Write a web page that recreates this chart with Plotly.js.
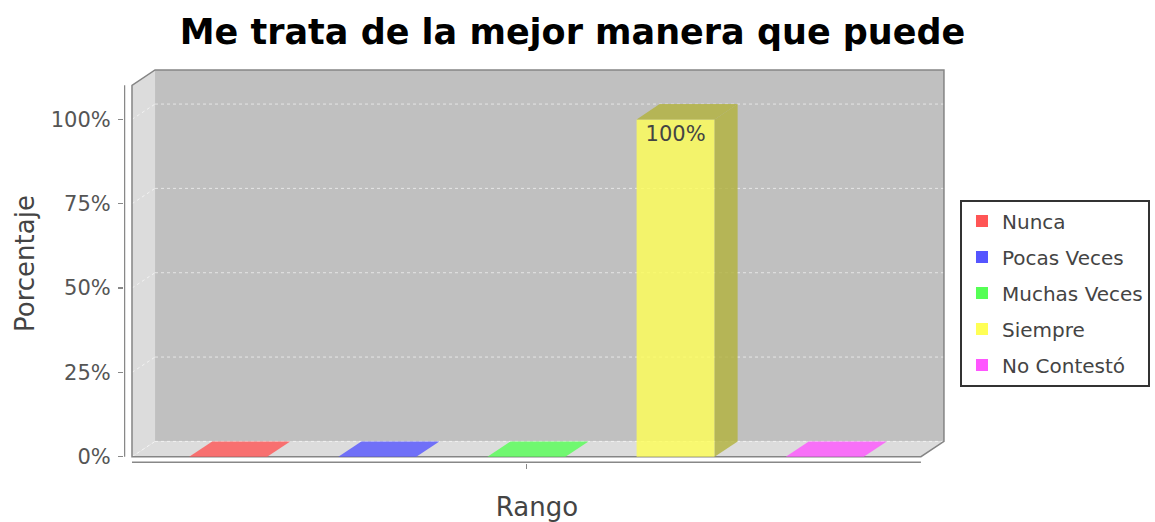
<!DOCTYPE html>
<html><head><meta charset="utf-8">
<script src="https://cdn.plot.ly/plotly-3.0.1.min.js"></script>
<style>html,body{margin:0;padding:0;background:#fff}#chart{width:1155px;height:522px}</style>
</head><body><div id="chart"></div>
<script>
// ---- data ----
const chartTitle = 'Me trata de la mejor manera que puede';
const series = ['Nunca', 'Pocas Veces', 'Muchas Veces', 'Siempre', 'No Contestó'];
const values = [0, 0, 0, 100, 0];
const yTickVals = [0, 25, 50, 75, 100];
const yTickText = ['0%', '25%', '50%', '75%', '100%'];
const xTitle = 'Rango';
const yTitle = 'Porcentaje';
const categoryTickText = [''];

// ---- style ----
const seriesColors = [[255,85,85],[85,85,255],[85,255,85],[255,255,85],[255,85,255]];
const FONT = 'DejaVu Sans, sans-serif';
const DX = 0.1544, DY = 4.54;          // 3D depth offset (x units, % units)
const BAR_W = 0.523;
const X_L = -0.645, X_R = 4.645;       // front box extent
const Y_TOP = 110.1, Y_MAX = Y_TOP + DY;
const X_RANGE = [-0.6986, 4.8399];
const Y_RANGE = [-1.868, 116.42];
const PLOT_W = 826;
const UPX = (X_RANGE[1] - X_RANGE[0]) / PLOT_W;

const rgba = (c, a) => `rgba(${c[0]},${c[1]},${c[2]},${a})`;
const darker = c => c.map(v => Math.floor(v * 0.7));

const traces = [];
series.forEach((name, i) => {
  traces.push({
    type: 'bar', name: name, x: [i], y: [values[i]], width: BAR_W,
    marker: {color: rgba(seriesColors[i], 1), opacity: 0.8, line: {width: 0}},
    text: [values[i] > 0 ? values[i] + '%' : ''],
    textposition: 'inside', insidetextanchor: 'end',
    textfont: {family: FONT, size: 21, color: '#444'},
    legendgroup: 'g' + i
  });
});
series.forEach((name, i) => {
  const v = values[i], xl = i - BAR_W / 2, xr = i + BAR_W / 2;
  const d = darker(seriesColors[i]);
  traces.push({
    type: 'scatter', mode: 'lines', x: [xl, xl + DX, xr + DX, xr, xl], y: [v, v + DY, v + DY, v, v],
    fill: 'toself', fillcolor: rgba(v > 0 ? d : seriesColors[i], 0.8), line: {width: 0},
    showlegend: false, hoverinfo: 'skip', legendgroup: 'g' + i
  });
  if (v > 0) {
    traces.push({
      type: 'scatter', mode: 'lines', x: [xr, xr + DX, xr + DX, xr, xr], y: [0, DY, v + DY, v, 0],
      fill: 'toself', fillcolor: rgba(d, 0.8), line: {width: 0},
      showlegend: false, hoverinfo: 'skip', legendgroup: 'g' + i
    });
  }
});

const shapes = [
  {type: 'rect', layer: 'below', xref: 'x', yref: 'y', x0: X_L + DX, x1: X_R + DX, y0: DY, y1: Y_MAX,
   fillcolor: '#c0c0c0', line: {width: 0}},
  {type: 'path', layer: 'below', xref: 'x', yref: 'y',
   path: `M${X_L},0 L${X_L},${Y_TOP} L${X_L + DX},${Y_MAX} L${X_L + DX},${DY} Z`,
   fillcolor: '#dcdcdc', line: {width: 0}},
  {type: 'path', layer: 'below', xref: 'x', yref: 'y',
   path: `M${X_L},0 L${X_L + DX},${DY} L${X_R + DX},${DY} L${X_R},0 Z`,
   fillcolor: '#dcdcdc', line: {width: 0}}
];
yTickVals.forEach(v => {
  shapes.push({type: 'line', layer: 'below', xref: 'x', yref: 'y', x0: X_L + DX, x1: X_R + DX, y0: v + DY, y1: v + DY,
    line: {color: 'rgba(255,255,255,0.6)', width: 1, dash: '3px,3px'}});
  shapes.push({type: 'line', layer: 'below', xref: 'x', yref: 'y', x0: X_L, x1: X_L + DX, y0: v, y1: v + DY,
    line: {color: 'rgba(255,255,255,0.6)', width: 1, dash: '3px,3px'}});
});
shapes.push({type: 'path', layer: 'below', xref: 'x', yref: 'y',
  path: `M${X_L},0 L${X_L},${Y_TOP} L${X_L + DX},${Y_MAX} L${X_R + DX},${Y_MAX} L${X_R + DX},${DY} L${X_R},0 Z`,
  line: {color: '#858585', width: 1.5}});
shapes.push({type: 'line', layer: 'below', xref: 'x', yref: 'y', x0: X_RANGE[0] + 0.5 * UPX, x1: X_RANGE[0] + 0.5 * UPX,
  y0: 0, y1: Y_TOP, line: {color: '#888', width: 1.5}});
shapes.push({type: 'line', layer: 'below', xref: 'x', yref: 'paper', x0: X_L, x1: X_R, y0: 0.002, y1: 0.002,
  line: {color: '#888', width: 1.5}});

const layout = {
  width: 1155, height: 522,
  margin: {l: 124, r: 205, t: 64, b: 59, autoexpand: false},
  paper_bgcolor: '#fff', plot_bgcolor: 'rgba(0,0,0,0)',
  font: {family: FONT, color: '#444'},
  title: {text: chartTitle, font: {family: FONT, size: 35, color: '#000', weight: 'bold'},
          x: 0.4957, xanchor: 'center', y: 0.94, yanchor: 'middle', yref: 'container'},
  barmode: 'overlay',
  hovermode: false,
  xaxis: {range: X_RANGE, showgrid: false, zeroline: false, showline: false, automargin: false,
          tickvals: [2], ticktext: categoryTickText, ticks: 'outside', ticklen: 5, tickcolor: '#888', tickwidth: 1.5,
          title: {text: xTitle, font: {family: FONT, size: 26, color: '#444'}, standoff: 28}},
  yaxis: {range: Y_RANGE, showgrid: false, zeroline: false, showline: false, automargin: false,
          tickvals: yTickVals, ticktext: yTickText, ticks: 'outside', ticklen: 5, tickcolor: '#888', tickwidth: 1.5,
          tickfont: {family: FONT, size: 21, color: '#555'}, ticklabelstandoff: 3,
          title: {text: yTitle, font: {family: FONT, size: 26, color: '#444'}, standoff: 8}},
  legend: {x: 1.0121, xanchor: 'left', y: 0.426, yanchor: 'middle', bgcolor: '#fff',
           bordercolor: '#333', borderwidth: 2, font: {family: FONT, size: 20, color: '#444'},
           tracegroupgap: 7, traceorder: 'grouped'},
  showlegend: true,
  shapes: shapes
};

Plotly.newPlot('chart', traces, layout, {displayModeBar: false, staticPlot: true});
</script>
</body></html>
